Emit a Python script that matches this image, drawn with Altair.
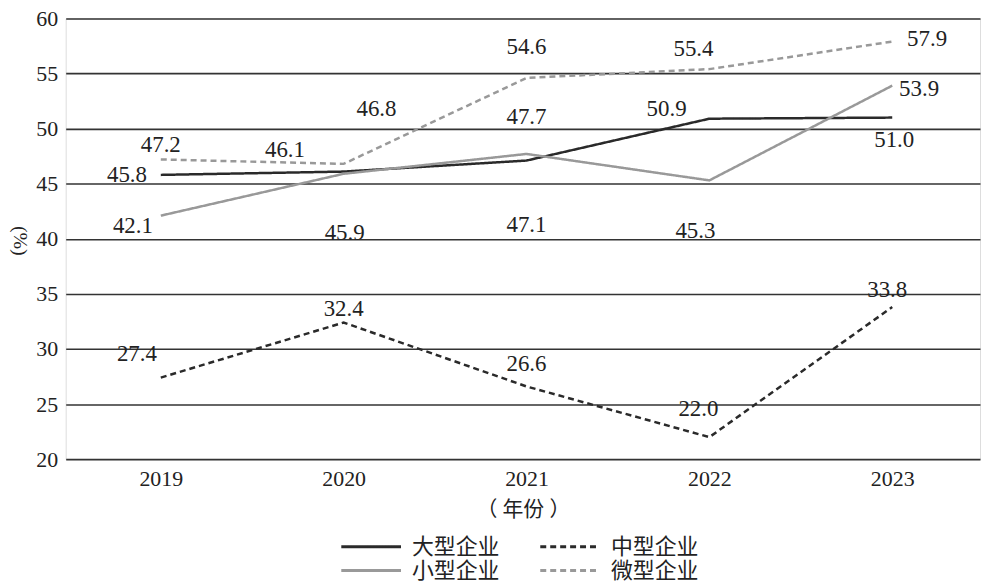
import altair as alt
import pandas as pd

years = [2019, 2020, 2021, 2022, 2023]
series_names = ["大型企业", "中型企业", "小型企业", "微型企业"]
# order used for the 2-column legend (filled column by column)
legend_order = ["大型企业", "小型企业", "中型企业", "微型企业"]
large = [45.8, 46.1, 47.1, 50.9, 51.0]
medium = [27.4, 32.4, 26.6, 22.0, 33.8]
small = [42.1, 45.9, 47.7, 45.3, 53.9]
micro = [47.2, 46.8, 54.6, 55.4, 57.9]
values = [large, medium, small, micro]
series_colors = {"大型企业": "#2a2a2a", "中型企业": "#2a2a2a", "小型企业": "#999999", "微型企业": "#999999"}
series_dash = {"大型企业": [1, 0], "中型企业": [6, 4], "小型企业": [1, 0], "微型企业": [6, 4]}

# label offsets in pixels (dx, dy) relative to each point
label_dx = [
    [-34, -59, 0, -43, 2],
    [-24, 0, 0, -11, -5],
    [-28, 1, 0, -14, 27],
    [0, 33, 0, -16, 35],
]
label_dy = [
    [0, -22, 65, -10, 23],
    [-24, -14, -23, -28, -17],
    [10, 60, -37, 51, 3],
    [-14, -55, -31, -20, -3],
]

W, H = 919, 443
X0, X1 = 2018.48, 2023.48
Y0, Y1 = 20, 60
px_per_year = W / (X1 - X0)
px_per_unit = H / (Y1 - Y0)

rows = []
for s, name in enumerate(series_names):
    for i, yr in enumerate(years):
        v = values[s][i]
        rows.append({
            "year": yr, "value": v, "series": name,
            "lx": yr + label_dx[s][i] / px_per_year,
            "ly": v - label_dy[s][i] / px_per_unit,
            "label": f"{v:.1f}",
        })
df = pd.DataFrame(rows)

FONT = "Liberation Serif, Noto Sans CJK SC"

xscale = alt.Scale(domain=[X0, X1], nice=False, zero=False)
yscale = alt.Scale(domain=[Y0, Y1], nice=False, zero=False)

lines = alt.Chart(df).mark_line(strokeWidth=2.5).encode(
    x=alt.X("year:Q", scale=xscale,
            axis=alt.Axis(values=years, format="d", grid=False, domain=False, ticks=False,
                          labelFontSize=22, labelPadding=9, labelColor="#222",
                          title="（ 年份 ）", titleFontSize=21, titleFontWeight="normal",
                          titleColor="#222", titlePadding=10)),
    y=alt.Y("value:Q", scale=yscale,
            axis=alt.Axis(values=[20, 25, 30, 35, 40, 45, 50, 55, 60], grid=True,
                          gridColor="#333", gridWidth=1.6, domain=False, ticks=False,
                          labelFontSize=22, labelPadding=8, labelColor="#222",
                          title="(%)", titleAngle=90, titleFontSize=20,
                          titleFontWeight="normal", titleColor="#222",
                          titleX=-46, titleY=223, titleAlign="center",
                          titleBaseline="middle")),
    color=alt.Color("series:N",
                    scale=alt.Scale(domain=legend_order,
                                    range=[series_colors[n] for n in legend_order]),
                    legend=alt.Legend(title=None, orient="none", legendX=296, legendY=520,
                                      columns=2, columnPadding=34, rowPadding=2,
                                      symbolType="M-5,0H5", symbolSize=144,
                                      symbolStrokeWidth=3, labelFontSize=22,
                                      labelColor="#222", labelOffset=30, labelFont=FONT)),
    strokeDash=alt.StrokeDash("series:N",
                              scale=alt.Scale(domain=legend_order,
                                              range=[series_dash[n] for n in legend_order]),
                              legend=None),
    detail="series:N",
)

labels = alt.Chart(df).mark_text(fontSize=23, color="#222", font=FONT, baseline="middle").encode(
    x=alt.X("lx:Q", scale=xscale),
    y=alt.Y("ly:Q", scale=yscale),
    text="label:N",
)

chart = alt.layer(lines, labels).properties(
    width=W, height=H,
    autosize=alt.AutoSizeParams(type="none"),
    padding={"left": 58, "top": 9, "right": 2, "bottom": 125},
).configure_view(stroke=None).configure(font=FONT).configure_axis(labelFont=FONT, titleFont=FONT)

chart.save("out.html", embed_options={"renderer": "svg", "actions": False})
